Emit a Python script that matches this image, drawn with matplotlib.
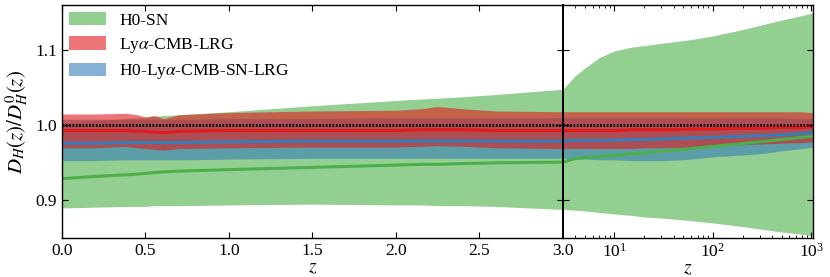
import numpy as np
import matplotlib
matplotlib.use("Agg")
import matplotlib.pyplot as plt
from matplotlib.patches import Patch
from matplotlib.ticker import LogLocator, LogFormatterMathtext, NullFormatter

plt.rcParams["font.family"] = "serif"
plt.rcParams["font.serif"] = ["Liberation Serif", "DejaVu Serif"]
plt.rcParams["mathtext.fontset"] = "stix"
plt.rcParams["xtick.direction"] = "in"
plt.rcParams["ytick.direction"] = "in"

# ---- left panel: linear z in [0, 3] ----
z_lin = [0.0, 0.2, 0.38, 0.45, 0.5, 0.55, 0.61, 0.7, 1.0, 1.5, 2.0, 2.15, 2.25, 2.4, 2.6, 3.0]
sn_lo_lin = [0.890, 0.891, 0.892, 0.892, 0.892, 0.893, 0.893, 0.893, 0.894, 0.895, 0.894, 0.894, 0.893, 0.893, 0.892, 0.888]
sn_hi_lin = [1.003, 1.006, 1.009, 1.010, 1.011, 1.012, 1.013, 1.014, 1.018, 1.026, 1.033, 1.035, 1.036, 1.038, 1.041, 1.048]
sn_mid_lin = [0.929, 0.932, 0.934, 0.935, 0.936, 0.937, 0.938, 0.939, 0.941, 0.944, 0.947, 0.948, 0.948, 0.949, 0.950, 0.951]
lya_hi_lin = [1.015, 1.015, 1.016, 1.014, 1.011, 1.013, 1.009, 1.014, 1.017, 1.019, 1.020, 1.022, 1.025, 1.022, 1.019, 1.018]
lya_mid_lin = [0.993, 0.993, 0.993, 0.992, 0.992, 0.991, 0.990, 0.992, 0.993, 0.993, 0.993, 0.994, 0.994, 0.994, 0.993, 0.993]
lya_lo_lin = [0.970, 0.970, 0.972, 0.970, 0.969, 0.968, 0.967, 0.969, 0.970, 0.971, 0.971, 0.972, 0.973, 0.972, 0.970, 0.969]
all_hi_lin = [1.008, 1.008, 1.008, 1.008, 1.008, 1.008, 1.008, 1.008, 1.009, 1.009, 1.010, 1.010, 1.010, 1.010, 1.010, 1.010]
all_mid_lin = [0.976, 0.976, 0.977, 0.977, 0.977, 0.977, 0.977, 0.977, 0.978, 0.979, 0.979, 0.979, 0.979, 0.979, 0.979, 0.979]
all_lo_lin = [0.953, 0.953, 0.954, 0.954, 0.954, 0.954, 0.954, 0.954, 0.955, 0.956, 0.956, 0.956, 0.956, 0.956, 0.956, 0.956]

# ---- right panel: log z in [3, ~1000] ----
z_log = [3, 4, 5, 7, 10, 15, 20, 34, 60, 100, 180, 300, 500, 800, 1000, 1040]
sn_hi_log = [1.048, 1.066, 1.076, 1.090, 1.099, 1.104, 1.106, 1.110, 1.114, 1.119, 1.126, 1.133, 1.140, 1.146, 1.149, 1.150]
sn_lo_log = [0.888, 0.887, 0.886, 0.884, 0.882, 0.880, 0.878, 0.876, 0.873, 0.870, 0.866, 0.862, 0.858, 0.855, 0.853, 0.853]
sn_mid_log = [0.951, 0.9556, 0.957, 0.9585, 0.960, 0.962, 0.9635, 0.966, 0.969, 0.972, 0.975, 0.978, 0.981, 0.984, 0.985, 0.986]
lya_hi_log = [1.018, 1.018, 1.018, 1.018, 1.018, 1.018, 1.018, 1.018, 1.018, 1.018, 1.018, 1.018, 1.018, 1.018, 1.017, 1.016]
lya_mid_log = [0.993, 0.993, 0.993, 0.993, 0.993, 0.994, 0.994, 0.994, 0.995, 0.995, 0.996, 0.996, 0.997, 0.997, 0.998, 0.998]
lya_lo_log = [0.969, 0.969, 0.969, 0.969, 0.969, 0.969, 0.970, 0.970, 0.971, 0.972, 0.974, 0.975, 0.976, 0.977, 0.978, 0.978]
all_hi_log = [1.010, 1.010, 1.010, 1.010, 1.010, 1.010, 1.010, 1.010, 1.010, 1.010, 1.010, 1.010, 1.010, 1.009, 1.009, 1.009]
all_mid_log = [0.979, 0.980, 0.980, 0.980, 0.980, 0.981, 0.981, 0.982, 0.983, 0.984, 0.985, 0.986, 0.987, 0.989, 0.990, 0.990]
all_lo_log = [0.956, 0.955, 0.955, 0.954, 0.954, 0.953, 0.953, 0.953, 0.955, 0.958, 0.960, 0.962, 0.966, 0.969, 0.971, 0.971]

labels = ["H0-SN", r"Ly$\alpha$-CMB-LRG", r"H0-Ly$\alpha$-CMB-SN-LRG"]
c_sn, c_lya, c_all = "#4daf4a", "#e41a1c", "#377eb8"
alpha = 0.6


def draw(ax, z, sn, lya, comb):
    for (lo, mid, hi), c in ((sn, c_sn), (comb, c_all), (lya, c_lya)):
        ax.fill_between(z, lo, hi, color=c, alpha=alpha, lw=0)
    for (lo, mid, hi), c in ((sn, c_sn), (comb, c_all), (lya, c_lya)):
        ax.plot(z, mid, color=c, lw=2.2)
    ax.axhline(1.0, color="k", lw=2.0, linestyle=(0, (0.6, 0.6)))
    ax.set_ylim(0.85, 1.16)
    ax.set_yticks([0.9, 1.0, 1.1])
    ax.tick_params(which="both", top=True, right=True, labelsize=12.5)
    ax.tick_params(which="major", length=4.5)
    ax.tick_params(which="minor", length=2.5)
    ax.set_xlabel(r"$z$", fontsize=14, labelpad=0)


fig = plt.figure(figsize=(8.3, 2.77), dpi=100)
ax1 = fig.add_axes([0.0747, 0.1408, 0.6036, 0.841])
ax2 = fig.add_axes([0.6783, 0.1408, 0.3012, 0.841])

draw(ax1, z_lin, (sn_lo_lin, sn_mid_lin, sn_hi_lin),
     (lya_lo_lin, lya_mid_lin, lya_hi_lin), (all_lo_lin, all_mid_lin, all_hi_lin))
ax1.set_xlim(0, 3)
ax1.set_xticks([0.0, 0.5, 1.0, 1.5, 2.0, 2.5, 3.0])
ax1.set_xticklabels(["0.0", "0.5", "1.0", "1.5", "2.0", "2.5", "3.0"])
ax1.set_yticklabels(["0.9", "1.0", "1.1"])
ax1.set_ylabel(r"$D_H(z)/D^0_H(z)$", fontsize=15, labelpad=4)

draw(ax2, z_log, (sn_lo_log, sn_mid_log, sn_hi_log),
     (lya_lo_log, lya_mid_log, lya_hi_log), (all_lo_log, all_mid_log, all_hi_log))
ax2.set_xscale("log")
ax2.set_xlim(3, 1040)
ax2.xaxis.set_major_locator(LogLocator(base=10))
ax2.xaxis.set_major_formatter(LogFormatterMathtext())
ax2.xaxis.set_minor_locator(LogLocator(base=10, subs=np.arange(2, 10)))
ax2.xaxis.set_minor_formatter(NullFormatter())
ax2.set_yticklabels([])

for ax in (ax1, ax2):
    for s in ax.spines.values():
        s.set_linewidth(1.0)
ax1.spines["right"].set_linewidth(1.4)
ax2.spines["left"].set_linewidth(1.4)

handles = [Patch(facecolor=c, alpha=alpha, edgecolor="none") for c in (c_sn, c_lya, c_all)]
ax1.legend(handles, labels, loc="upper left", frameon=False, fontsize=12.5,
           handlelength=2.15, handleheight=0.8, labelspacing=0.42,
           handletextpad=0.75, borderpad=0.2, borderaxespad=0.2)

fig.savefig("out.png", dpi=100)
